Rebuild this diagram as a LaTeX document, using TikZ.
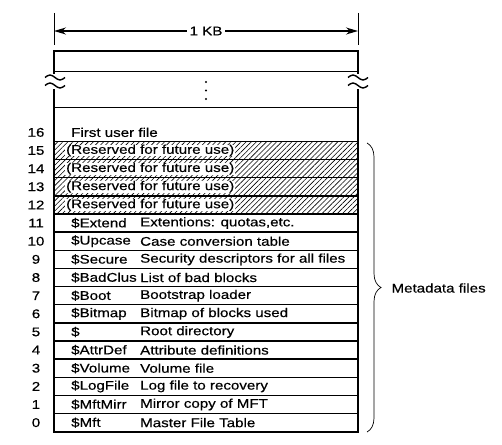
\documentclass[tikz,border=0pt]{standalone}
\usepackage{fontspec}
\setmainfont{Liberation Sans}[FakeStretch=1.2,FakeBold=0.4]
\usetikzlibrary{patterns.meta,decorations.pathreplacing,arrows.meta}

\begin{document}
\begin{tikzpicture}[x=1pt,y=-1pt,
  every node/.style={font=\fontsize{12.6}{14}\selectfont},
  rowline/.style={line width=1.5pt},
  hatched/.style={pattern={Lines[angle=45,distance=3.6pt,line width=0.6pt]}},
  cell/.style={anchor=west,inner sep=0pt},
  brk/.style={fill=white,inner sep=0pt,minimum width=22pt,minimum height=15pt}]
\useasboundingbox (0,0) rectangle (502,444);
% width arrow
\draw[line width=0.7pt] (54,13) -- (54,45);
\draw[line width=0.7pt] (358,13) -- (358,45);
\coordinate (al) at (54,31);
\coordinate (ar) at (358,31);
\draw[{Stealth[length=12pt,width=7pt]}-{Stealth[length=12pt,width=7pt]},line width=1.5pt]
  (al) -- (ar) node[midway,fill=white,inner xsep=3pt] (kb) {1 KB};
% hatched rows
\foreach \i in {12,...,15} {
  \fill[hatched] (54,{431.7-(\i+1)*18.14}) rectangle (358,{431.7-\i*18.14});
  \node[cell,fill=white,inner xsep=1pt] (r\i) at (65,{431.7-(\i+0.5)*18.14}) {(Reserved for future use)};
}
% row lines
\foreach \i in {1,...,16}
  \draw[rowline] (54,{431.7-\i*18.14}) -- (358,{431.7-\i*18.14});
\draw[rowline] (54,71.7) -- (358,71.7);
\draw[rowline] (54,107.7) -- (358,107.7);
\draw[line width=2pt] (54,51) rectangle (358,431.7);
% break marks
\node[brk] (bl) at (55,81.5) {};
\node[brk] (br) at (358,81.5) {};
\foreach \b in {bl,br}
  \foreach \dy in {-4pt,4pt}
    \draw[line width=1.4pt] ([xshift=-10pt,yshift=\dy]\b.center)
      sin ++(5pt,2.5pt) cos ++(5pt,-2.5pt) sin ++(5pt,-2.5pt) cos ++(5pt,2.5pt);
\foreach \k in {0,1,2}
  \fill (206,{82+\k*8.5}) circle (1.2);
% numbers
\foreach \i in {0,...,16}
  \node (n\i) at (36,{431.7-(\i+0.5)*18.14}) {\i};
% entries
\node[cell] (f16) at (71,{431.7-16.5*18.14}) {First user file};
\foreach \i/\nm/\ds in {0/\$Mft/Master File Table,
    1/\$MftMirr/Mirror copy of MFT,
    2/\$LogFile/Log file to recovery,
    3/\$Volume/Volume file,
    4/\$AttrDef/Attribute definitions,
    5/\$/Root directory,
    6/\$Bitmap/Bitmap of blocks used,
    7/\$Boot/Bootstrap loader,
    8/\$BadClus/List of bad blocks,
    9/\$Secure/Security descriptors for all files,
    10/\$Upcase/Case conversion table,
    11/\$Extend/{Extentions: quotas,etc.}} {
  \node[cell] (f\i) at (71,{431.7-(\i+0.5)*18.14}) {\nm};
  \node[cell] (d\i) at (140,{431.7-(\i+0.5)*18.14}) {\ds};
}
% metadata brace
\coordinate (bt) at (367,143);
\coordinate (bb) at (367,432);
\draw[line width=0.7pt,decorate,decoration={brace,amplitude=14pt,aspect=0.5}] (bt) -- (bb);
\node[anchor=west] (meta) at (388,288) {Metadata files};
\end{tikzpicture}
\end{document}
